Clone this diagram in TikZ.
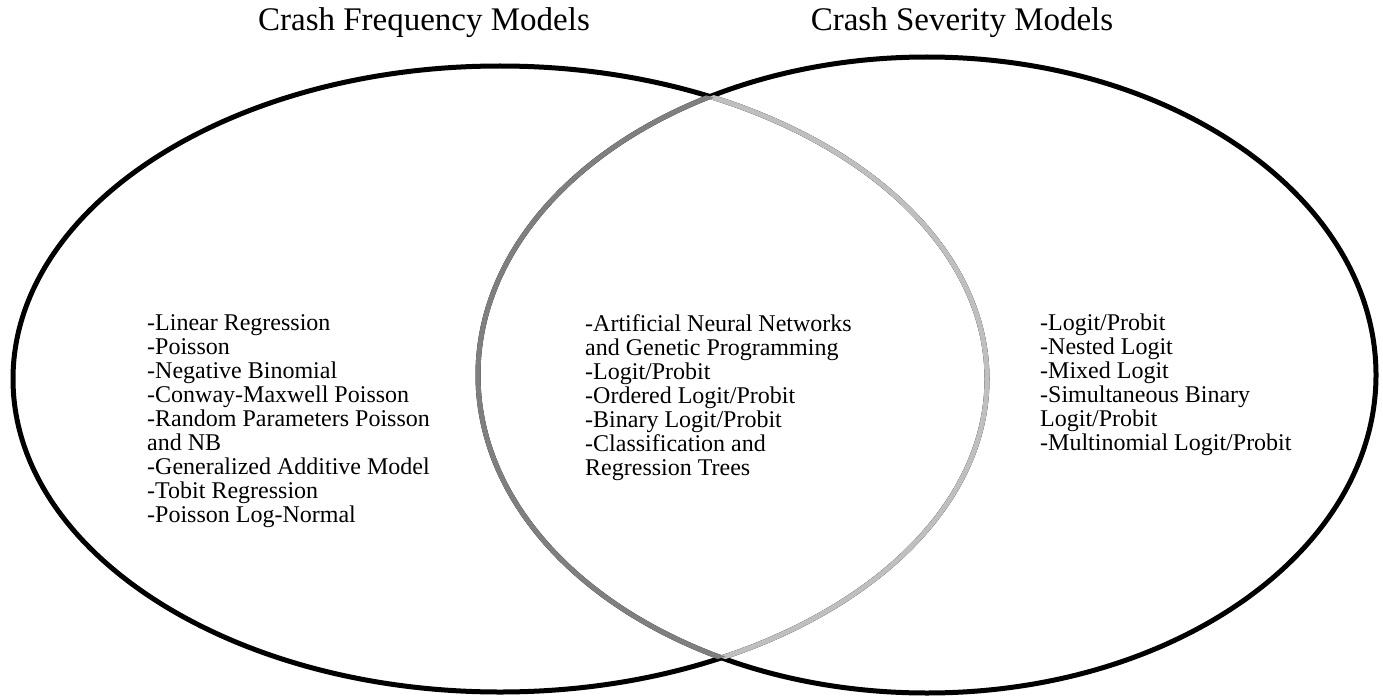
\documentclass[tikz,border=0pt]{standalone}
\usepackage{fontspec}
\setmainfont{Liberation Serif}
\definecolor{darkarc}{HTML}{7F7F7F}
\definecolor{lightarc}{HTML}{BFBFBF}
\begin{document}
\begin{tikzpicture}[x=1pt,y=-1pt,
  ring/.style={line width=5pt},
  listtext/.style={anchor=north west, align=left, inner sep=0pt,
    font=\fontsize{24}{24}\selectfont},
  heading/.style={inner sep=0pt, font=\fontsize{33}{36}\selectfont}]
\useasboundingbox (0,0) rectangle (1383,698);
\coordinate (fc) at (500,379);
\coordinate (sc) at (927,375);
% outer outlines
\draw[ring] (fc) ellipse [x radius=487, y radius=313];
\draw[ring] (sc) ellipse [x radius=449, y radius=318];
% arcs inside the overlap
\begin{scope}
  \clip (sc) ellipse [x radius=449, y radius=318];
  \draw[ring, lightarc] (fc) ellipse [x radius=487, y radius=313];
\end{scope}
\begin{scope}
  \clip (fc) ellipse [x radius=487, y radius=313];
  \draw[ring, darkarc] (sc) ellipse [x radius=449, y radius=318];
\end{scope}
% headings
\node[heading] (freqtitle) at (424,23) {Crash Frequency Models};
\node[heading] (sevtitle) at (962,23) {Crash Severity Models};
% lists
\node[listtext] (freqlist) at (147,314) {-Linear Regression\\-Poisson\\-Negative Binomial\\-Conway-Maxwell Poisson\\-Random Parameters Poisson\\and NB\\-Generalized Additive Model\\-Tobit Regression\\-Poisson Log-Normal};
\node[listtext] (bothlist) at (585,314) {-Artificial Neural Networks\\and Genetic Programming\\-Logit/Probit\\-Ordered Logit/Probit\\-Binary Logit/Probit\\-Classification and\\Regression Trees};
\node[listtext] (sevlist) at (1040,314) {-Logit/Probit\\-Nested Logit\\-Mixed Logit\\-Simultaneous Binary\\Logit/Probit\\-Multinomial Logit/Probit};
\end{tikzpicture}
\end{document}
